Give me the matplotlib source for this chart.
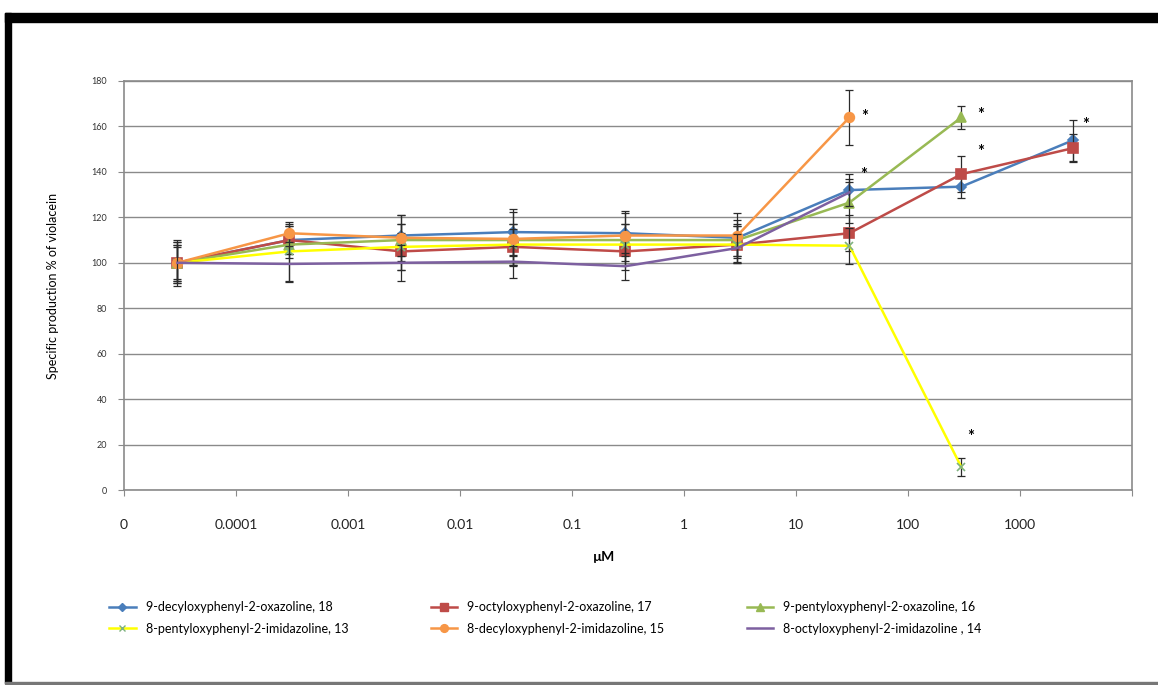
import numpy as np
import matplotlib
matplotlib.use("Agg")
import matplotlib.pyplot as plt
from matplotlib.patches import Rectangle
from matplotlib.lines import Line2D

plt.rcParams["font.family"] = ["Lato", "DejaVu Sans"]

# concentrations (uM); the first one is the control, shown in the "0" slot
conc = [0.00003, 0.0003, 0.003, 0.03, 0.3, 3, 30, 300, 3000]
tick_pos = [1e-5, 1e-4, 1e-3, 1e-2, 1e-1, 1, 10, 100, 1000, 10000]
tick_labels = ["0", "0.0001", "0.001", "0.01", "0.1", "1", "10", "100", "1000", ""]

names = [
    "9-decyloxyphenyl-2-oxazoline, 18",
    "9-octyloxyphenyl-2-oxazoline, 17",
    "9-pentyloxyphenyl-2-oxazoline, 16",
    "8-pentyloxyphenyl-2-imidazoline, 13",
    "8-decyloxyphenyl-2-imidazoline, 15",
    "8-octyloxyphenyl-2-imidazoline , 14",
]
vals_18 = [100, 110, 112, 113.5, 113, 111, 132, 133.5, 154]
vals_17 = [100, 110, 105, 107, 105, 108, 113, 139, 150.5]
vals_16 = [100, 108, 110, 110, 110, 110, 126.5, 164]
vals_13 = [100, 105, 107, 108, 108, 108, 107.5, 10]
vals_15 = [100, 113, 111, 110.5, 112, 112, 164]
vals_14 = [100, 99.5, 100, 100.5, 98.5, 106.5, 131]

err_18 = [10, 6, 9, 10, 9, 8, 7, 5, 9]
err_17 = [8, 6, 8, 8, 8, 8, 8, 8, 6]
err_16 = [7, 6, 7, 7, 7, 7, 9, 5]
err_13 = [9, 13, 10, 9, 9, 8, 8, 4]
err_15 = [9, 4, 10, 12, 11, 10, 12]
err_14 = [8, 8, 8, 7, 6, 6, 6]

series_vals = [vals_18, vals_17, vals_16, vals_13, vals_15, vals_14]
series_err = [err_18, err_17, err_16, err_13, err_15, err_14]

colors = ["#4A7EBB", "#BE4B48", "#98B954", "#FFFF00", "#F79646", "#7D60A0"]
markers = ["D", "s", "^", "x", "o", None]
msizes = [5, 7, 7, 6, 7, 0]

# significance stars: (series index, point index)
stars = [(4, 6), (0, 6), (2, 7), (1, 7), (0, 8), (3, 7)]
star_offsets = [(11, 0), (10, 11), (14, 2), (14, 16), (9, 11), (7, 22)]

fig = plt.figure(figsize=(11.58, 6.85), dpi=100)
ax = fig.add_axes([124 / 1158, 1 - 490 / 685, 1008 / 1158, 409 / 685])

handles = []
for i, (v, e) in enumerate(zip(series_vals, series_err)):
    x = conc[: len(v)]
    ax.errorbar(x, v, yerr=e, fmt="none", ecolor="#2b2b2b", elinewidth=0.9,
                capsize=3, capthick=0.9, zorder=2 + i)
    mec = "#7FB27F" if markers[i] == "x" else colors[i]
    ax.plot(x, v, color=colors[i], lw=1.8, marker=markers[i], ms=msizes[i],
            mfc=colors[i], mec=mec, mew=1.2, zorder=3 + i)
    handles.append(Line2D([], [], color=colors[i], lw=1.8, marker=markers[i],
                          ms=msizes[i] * 0.8, mfc=colors[i], mec=mec))

for (s, p), off in zip(stars, star_offsets):
    ax.annotate("*", xy=(conc[p], series_vals[s][p]), xytext=off,
                textcoords="offset points", ha="center", va="center",
                fontsize=12, fontweight="bold", color="black", zorder=20)

ax.set_xscale("log")
ax.set_xlim(1e-5, 1e4)
ax.set_xticks(tick_pos)
ax.set_xticklabels(tick_labels)
ax.minorticks_off()
ax.set_ylim(0, 180)
ax.set_yticks(np.arange(0, 181, 20))
ax.grid(axis="y", color="#8a8a8a", lw=1)
ax.set_axisbelow(True)
for sp in ax.spines.values():
    sp.set_color("#8a8a8a")
    sp.set_linewidth(1.2)
ax.tick_params(axis="y", labelsize=6.5, length=4, color="#8a8a8a",
               labelcolor="#333333", pad=8)
ax.tick_params(axis="x", labelsize=10, length=4, color="#8a8a8a",
               labelcolor="#222222", pad=17)
ax.set_ylabel("Specific production % of violacein", fontsize=9)
ax.yaxis.set_label_coords(-0.064, 0.5)

fig.text(604 / 1158, 1 - 557 / 685, "µM", ha="center", va="center",
         fontsize=10, fontweight="bold")

order = [0, 3, 1, 4, 2, 5]
fig.legend([handles[k] for k in order], [names[k] for k in order],
           ncol=3, loc="upper left", bbox_to_anchor=(98 / 1158, 1 - 590 / 685),
           frameon=False, fontsize=9, handlelength=2.1, columnspacing=6.6,
           handletextpad=0.8, labelspacing=0.75)

# black frame around the figure
fig.patches.append(Rectangle((5 / 1158, 1 - 22 / 685), 1, 9 / 685,
                             transform=fig.transFigure, color="black"))
fig.patches.append(Rectangle((5 / 1158, 1 - 683 / 685), 6 / 1158, 670 / 685,
                             transform=fig.transFigure, color="black"))
fig.patches.append(Rectangle((5 / 1158, 1 - 684 / 685), 1, 2 / 685,
                             transform=fig.transFigure, color="#777777"))

fig.savefig("out.png", dpi=100)
